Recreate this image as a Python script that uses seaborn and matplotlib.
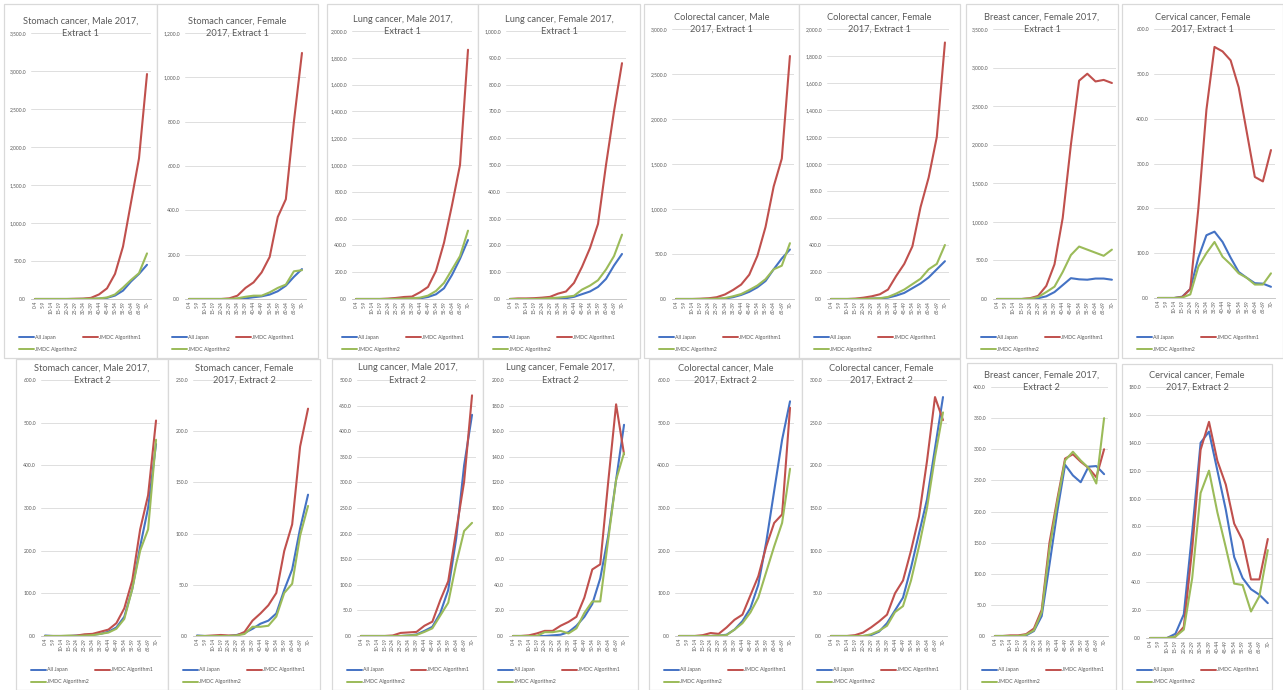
import numpy as np
import pandas as pd
import matplotlib
matplotlib.use("Agg")
import matplotlib.pyplot as plt
import seaborn as sns
from matplotlib.patches import Rectangle
from matplotlib.lines import Line2D
from matplotlib.ticker import FuncFormatter

sns.set_style("white")
plt.rcParams['font.family'] = ['Lato', 'DejaVu Sans']

age_groups = ["0-4", "5-9", "10-14", "15-19", "20-24", "25-29", "30-34", "35-39",
              "40-44", "45-49", "50-54", "55-59", "60-64", "65-69", "70-"]
series_names = ["All Japan", "JMDC Algorithm1", "JMDC Algorithm2"]

# ---------------- Extract 1 ----------------
stomach_m1_all = [0, 0, 0, 0, 0, 0, 1, 2, 5, 15, 45, 110, 230, 330, 450]
stomach_m1_alg1 = [0, 0, 0, 0, 0, 3, 5, 15, 60, 140, 330, 690, 1270, 1850, 2960]
stomach_m1_alg2 = [0, 0, 0, 0, 0, 0, 1, 3, 8, 20, 60, 150, 250, 340, 600]

stomach_f1_all = [0, 0, 0, 0, 0, 0, 1, 3, 8, 12, 20, 35, 60, 100, 135]
stomach_f1_alg1 = [0, 0, 0, 0, 0, 3, 15, 50, 75, 120, 190, 370, 450, 800, 1110]
stomach_f1_alg2 = [0, 0, 0, 0, 0, 0, 3, 10, 15, 15, 30, 50, 65, 125, 130]

lung_m1_all = [0, 0, 0, 0, 0, 1, 2, 3, 5, 15, 35, 80, 180, 300, 440]
lung_m1_alg1 = [0, 0, 0, 0, 3, 8, 15, 18, 50, 90, 210, 420, 700, 1000, 1860]
lung_m1_alg2 = [0, 0, 0, 0, 0, 1, 3, 5, 10, 25, 60, 120, 220, 320, 510]

lung_f1_all = [0, 0, 0, 0, 0, 1, 2, 3, 8, 18, 28, 45, 75, 125, 168]
lung_f1_alg1 = [0, 2, 2, 3, 5, 8, 20, 28, 60, 120, 190, 280, 500, 700, 880]
lung_f1_alg2 = [0, 0, 0, 0, 1, 3, 5, 8, 12, 35, 50, 70, 110, 160, 240]

colo_m1_all = [0, 0, 0, 0, 1, 2, 5, 20, 45, 80, 130, 200, 330, 450, 550]
colo_m1_alg1 = [0, 0, 0, 3, 8, 20, 50, 100, 160, 270, 480, 800, 1250, 1560, 2700]
colo_m1_alg2 = [0, 0, 0, 0, 1, 3, 10, 30, 55, 100, 150, 220, 330, 370, 620]

colo_f1_all = [0, 0, 0, 0, 1, 3, 5, 10, 25, 45, 80, 115, 160, 220, 280]
colo_f1_alg1 = [0, 0, 0, 3, 10, 20, 35, 70, 170, 260, 390, 680, 900, 1200, 1900]
colo_f1_alg2 = [0, 0, 0, 0, 1, 3, 6, 15, 40, 70, 110, 150, 220, 260, 400]

breast_f1_all = [0, 0, 0, 0, 2, 10, 35, 90, 180, 270, 255, 250, 265, 265, 250]
breast_f1_alg1 = [0, 0, 0, 0, 10, 40, 170, 450, 1050, 2000, 2830, 2920, 2820, 2840, 2800]
breast_f1_alg2 = [0, 0, 0, 0, 5, 25, 90, 160, 350, 570, 680, 640, 600, 560, 640]

cerv_f1_all = [0, 0, 0, 3, 20, 90, 140, 148, 125, 90, 58, 45, 33, 32, 25]
cerv_f1_alg1 = [0, 0, 0, 2, 20, 200, 420, 560, 550, 530, 470, 370, 270, 260, 330]
cerv_f1_alg2 = [0, 0, 0, 1, 8, 70, 100, 125, 92, 75, 55, 45, 30, 30, 55]

# ---------------- Extract 2 ----------------
stomach_m2_all = [1, 0, 0, 0, 1, 2, 3, 5, 10, 20, 45, 110, 210, 300, 450]
stomach_m2_alg1 = [0, 0, 0, 0, 1, 4, 5, 10, 15, 30, 65, 130, 250, 330, 505]
stomach_m2_alg2 = [0, 0, 0, 1, 0, 1, 2, 5, 8, 17, 40, 110, 200, 250, 460]

stomach_f2_all = [0.5, 0, 0, 0, 0, 1, 3, 7, 12, 15, 22, 45, 65, 105, 138]
stomach_f2_alg1 = [0, 0, 0.5, 1, 0.5, 0.5, 4, 15, 22, 30, 42, 83, 109, 185, 222]
stomach_f2_alg2 = [0, 0, 0, 0, 0, 0.5, 2, 9, 9, 10, 19, 42, 51, 98, 127]

lung_m2_all = [0, 0, 0, 0, 0, 0, 1, 3, 10, 18, 45, 90, 190, 333, 432]
lung_m2_alg1 = [0, 0, 0, 0, 1, 6, 7, 8, 20, 28, 70, 107, 205, 301, 470]
lung_m2_alg2 = [0, 0, 0, 0, 0, 0, 1, 2, 8, 15, 40, 65, 141, 205, 221]

lung_f2_all = [0, 0, 0, 0, 0, 0.5, 1, 3, 8, 15, 25, 45, 78, 122, 165]
lung_f2_alg1 = [0, 0, 0.5, 2, 4, 4, 8, 11, 15, 30, 52, 56, 120, 181, 142]
lung_f2_alg2 = [0, 0, 0, 0, 3, 3, 4, 2, 6, 18, 27, 27, 75, 122, 143]

colo_m2_all = [0, 0, 0, 0, 0, 1, 3, 15, 35, 65, 120, 220, 340, 460, 550]
colo_m2_alg1 = [0, 0, 0, 2, 7, 5, 20, 38, 50, 95, 140, 210, 265, 285, 535]
colo_m2_alg2 = [0, 0, 0, 0, 0, 1, 2, 15, 30, 55, 90, 150, 210, 265, 392]

colo_f2_all = [0, 0, 0, 0, 0, 1, 5, 15, 30, 45, 80, 120, 160, 220, 280]
colo_f2_alg1 = [0, 0, 0, 1, 4, 10, 17, 25, 50, 65, 100, 140, 205, 280, 253]
colo_f2_alg2 = [0, 0, 0, 0, 0, 2, 6, 12, 28, 35, 65, 105, 150, 210, 262]

breast_f2_all = [0, 0, 0, 0, 1, 8, 32, 115, 200, 275, 258, 247, 272, 273, 260]
breast_f2_alg1 = [0, 0, 1, 1, 3, 12, 42, 150, 220, 285, 292, 280, 270, 255, 300]
breast_f2_alg2 = [0, 0, 0, 0, 2, 9, 38, 140, 215, 282, 296, 282, 270, 245, 350]

cerv_f2_all = [0, 0, 0, 3, 17, 76, 140, 148, 120, 92, 58, 43, 35, 31, 25]
cerv_f2_alg1 = [0, 0, 0, 1, 8, 64, 135, 155, 127, 110, 82, 70, 42, 42, 71]
cerv_f2_alg2 = [0, 0, 0, 1, 6, 43, 104, 120, 90, 65, 39, 38, 19, 30, 63]

titles = [
    ("Stomach cancer, Male 2017,", "Extract 1"), ("Stomach cancer, Female", "2017, Extract 1"),
    ("Lung cancer, Male 2017,", "Extract 1"), ("Lung cancer, Female 2017,", "Extract 1"),
    ("Colorectal cancer, Male", "2017, Extract 1"), ("Colorectal cancer, Female", "2017, Extract 1"),
    ("Breast cancer, Female 2017,", "Extract 1"), ("Cervical cancer, Female", "2017, Extract 1"),
    ("Stomach cancer, Male 2017,", "Extract 2"), ("Stomach cancer, Female", "2017, Extract 2"),
    ("Lung cancer, Male 2017,", "Extract 2"), ("Lung cancer, Female 2017,", "Extract 2"),
    ("Colorectal cancer, Male", "2017, Extract 2"), ("Colorectal cancer, Female", "2017, Extract 2"),
    ("Breast cancer, Female 2017,", "Extract 2"), ("Cervical cancer, Female", "2017, Extract 2"),
]
series_sets = [
    (stomach_m1_all, stomach_m1_alg1, stomach_m1_alg2),
    (stomach_f1_all, stomach_f1_alg1, stomach_f1_alg2),
    (lung_m1_all, lung_m1_alg1, lung_m1_alg2),
    (lung_f1_all, lung_f1_alg1, lung_f1_alg2),
    (colo_m1_all, colo_m1_alg1, colo_m1_alg2),
    (colo_f1_all, colo_f1_alg1, colo_f1_alg2),
    (breast_f1_all, breast_f1_alg1, breast_f1_alg2),
    (cerv_f1_all, cerv_f1_alg1, cerv_f1_alg2),
    (stomach_m2_all, stomach_m2_alg1, stomach_m2_alg2),
    (stomach_f2_all, stomach_f2_alg1, stomach_f2_alg2),
    (lung_m2_all, lung_m2_alg1, lung_m2_alg2),
    (lung_f2_all, lung_f2_alg1, lung_f2_alg2),
    (colo_m2_all, colo_m2_alg1, colo_m2_alg2),
    (colo_f2_all, colo_f2_alg1, colo_f2_alg2),
    (breast_f2_all, breast_f2_alg1, breast_f2_alg2),
    (cerv_f2_all, cerv_f2_alg1, cerv_f2_alg2),
]
y_max = [3500, 1200, 2000, 1000, 3000, 2000, 3500, 600,
         600, 250, 500, 200, 600, 300, 400, 180]
y_step = [500, 200, 200, 100, 500, 200, 500, 100,
          100, 50, 50, 20, 100, 50, 50, 20]

# layout (pixel boxes: x0, y0(top), x1, y1(bottom))
boxes = [(4, 4, 157, 358), (157, 4, 318, 358), (327, 4, 478, 358), (478, 4, 640, 358),
         (644, 4, 799, 358), (799, 4, 960, 358), (966, 4, 1118, 358), (1122, 4, 1283, 358),
         (16, 359, 168, 690), (168, 359, 320, 690), (332, 359, 483, 690), (483, 359, 638, 690),
         (649, 359, 802, 690), (802, 359, 960, 690), (967, 363, 1116, 690), (1122, 364, 1272, 690)]
areas = [(31, 33, 151, 299), (185, 33, 306, 299), (352, 31, 472, 299), (506, 31, 626, 299),
         (672, 29, 794, 299), (827, 29, 949, 299), (993, 29, 1116, 299), (1154, 29, 1275, 298),
         (41, 380, 160, 636), (193, 380, 312, 636), (357, 380, 476, 636), (509, 380, 628, 636),
         (675, 380, 794, 636), (827, 380, 947, 636), (991, 387, 1108, 636), (1146, 387, 1272, 638)]

palette = {"All Japan": "#4472C4", "JMDC Algorithm1": "#C0504D", "JMDC Algorithm2": "#9BBB59"}
TXT = "#595959"

W, H = 1283, 690
fig = plt.figure(figsize=(W / 100, H / 100), dpi=100)
fig.patch.set_facecolor("white")


def fx(x):
    return x / W


def fy(y):
    return 1 - y / H


fmt = FuncFormatter(lambda v, p: f"{v:,.1f}")

for i in range(16):
    bx0, by0, bx1, by1 = boxes[i]
    x0, y0, x1, y1 = areas[i]
    fig.patches.append(Rectangle((fx(bx0), fy(by1)), fx(bx1) - fx(bx0), fy(by0) - fy(by1),
                                 transform=fig.transFigure, facecolor="white",
                                 edgecolor="#D9D9D9", lw=0.9, zorder=-1))
    ax = fig.add_axes([fx(x0), fy(y1), fx(x1) - fx(x0), fy(y0) - fy(y1)])
    ax.patch.set_alpha(0)
    a, b, c = series_sets[i]
    df = pd.DataFrame({
        "pos": np.tile(np.arange(len(age_groups)), 3),
        "value": np.concatenate([a, b, c]),
        "series": np.repeat(series_names, len(age_groups)),
    })
    sns.lineplot(data=df, x="pos", y="value", hue="series", hue_order=series_names,
                 palette=palette, lw=1.5, ax=ax, legend=False)
    ax.set_xlim(-0.5, len(age_groups) - 0.5)
    ax.set_ylim(0, y_max[i])
    ax.set_yticks(np.arange(0, y_max[i] + y_step[i] / 2, y_step[i]))
    ax.yaxis.set_major_formatter(fmt)
    ax.set_xticks(range(len(age_groups)))
    ax.set_xticklabels(age_groups, rotation=90, fontsize=3.4, color=TXT)
    for lab in ax.get_yticklabels():
        lab.set_fontsize(3.6)
        lab.set_color(TXT)
    ax.grid(axis="y", color="#D9D9D9", lw=0.6)
    ax.grid(axis="x", visible=False)
    ax.set_axisbelow(True)
    for s in ["left", "top", "right"]:
        ax.spines[s].set_visible(False)
    ax.spines["bottom"].set_color("#BFBFBF")
    ax.spines["bottom"].set_linewidth(0.6)
    ax.tick_params(axis="y", length=0, pad=3.5)
    ax.tick_params(axis="x", length=0, pad=1.5)
    ax.set_xlabel("")
    ax.set_ylabel("")

    # title (two lines)
    cx = fx((bx0 + bx1) / 2)
    fig.text(cx, fy(y0 - 12), titles[i][0], ha="center", va="center",
             fontsize=6.7, color=TXT)
    fig.text(cx, fy(y0 + 0.5), titles[i][1], ha="center", va="center",
             fontsize=6.7, color=TXT)

    # legend
    ly1 = 337 if i < 8 else 670
    ly2 = ly1 + 12
    entries = [(bx0 + 15, ly1, series_names[0]), (bx0 + 79, ly1, series_names[1]),
               (bx0 + 15, ly2, series_names[2])]
    for (lx, ly, name) in entries:
        fig.lines.append(Line2D([fx(lx), fx(lx + 15)], [fy(ly), fy(ly)],
                                transform=fig.transFigure, color=palette[name], lw=1.4))
        fig.text(fx(lx + 16), fy(ly), name, ha="left", va="center", fontsize=3.8, color=TXT)

fig.savefig("out.png", dpi=100, facecolor="white")
